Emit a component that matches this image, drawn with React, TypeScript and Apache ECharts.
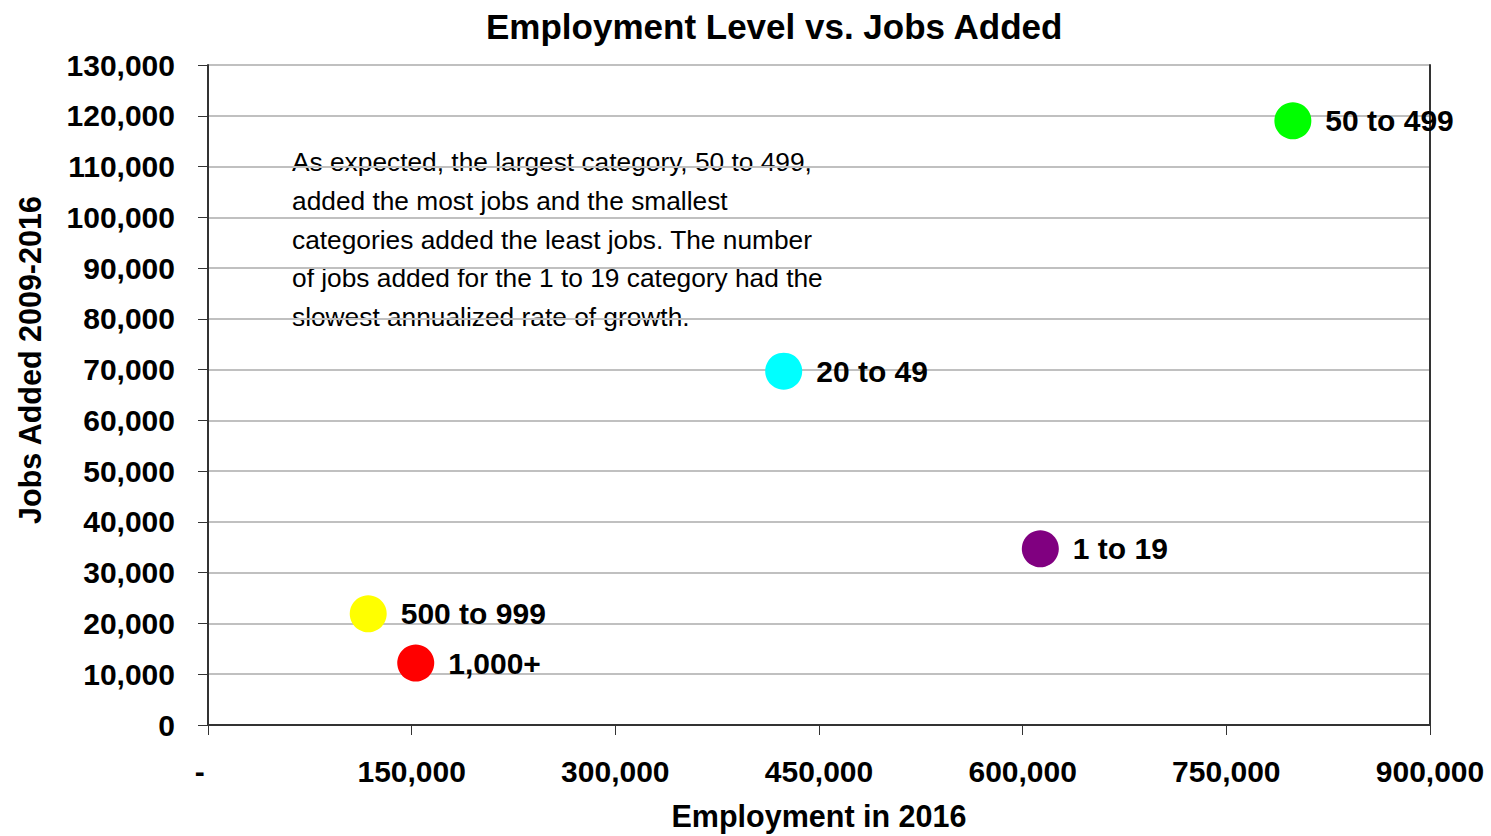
import React, { useEffect, useRef } from "react";
import * as echarts from "echarts";

const categories = ["50 to 499", "20 to 49", "1 to 19", "500 to 999", "1,000+"];
const employment = [799000, 424000, 613000, 118000, 153000];
const jobsAdded = [119000, 69700, 34700, 21900, 12200];
const colors = ["#00ff00", "#00ffff", "#800080", "#ffff00", "#ff0000"];
const noteLines = [
  "As expected, the largest category, 50 to 499,",
  "added the most jobs and the smallest",
  "categories added the least jobs. The number",
  "of jobs added for the 1 to 19 category had the",
  "slowest annualized rate of growth.",
];

const FONT = "'Liberation Sans Narrow', 'Arial Narrow', 'Liberation Sans', Arial, sans-serif";

const fmt = (v: number) => (v === 0 ? "-\u00a0\u00a0" : v.toLocaleString("en-US"));

export default function App() {
  const ref = useRef<HTMLDivElement>(null);
  useEffect(() => {
    if (!ref.current) return;
    const chart = echarts.init(ref.current, undefined, { renderer: "svg" });
    chart.setOption({
      animation: false,
      backgroundColor: "#ffffff",
      textStyle: { fontFamily: FONT },
      title: {
        text: "Employment Level vs. Jobs Added",
        left: 481,
        top: 4,
        textStyle: { fontFamily: FONT, fontWeight: "bold", fontSize: 35, color: "#000" },
      },
      grid: {
        left: 208,
        right: 61,
        top: 65,
        bottom: 111,
        containLabel: false,
        outerBoundsMode: "none",
      },
      xAxis: {
        type: "value",
        min: 0,
        max: 900000,
        interval: 150000,
        name: "Employment in 2016",
        nameLocation: "middle",
        nameGap: 75,
        nameTextStyle: { fontFamily: FONT, fontWeight: "bold", fontSize: 30.5, color: "#000" },
        axisLine: { show: true, onZero: false, lineStyle: { color: "#333", width: 2 } },
        axisTick: { show: true, length: 10, lineStyle: { color: "#333", width: 1 } },
        axisLabel: {
          formatter: fmt,
          margin: 31,
          fontFamily: FONT,
          fontWeight: "bold",
          fontSize: 30,
          color: "#000",
        },
        splitLine: { show: false },
      },
      yAxis: [
        {
          type: "value",
          min: 0,
          max: 130000,
          interval: 10000,
          name: "Jobs Added 2009-2016",
          nameLocation: "middle",
          nameGap: 163,
          nameTextStyle: {
            fontFamily: FONT,
            fontWeight: "bold",
            fontSize: 30.5,
            color: "#000",
            padding: [0, 0, 0, 70],
          },
          axisLine: { show: true, lineStyle: { color: "#333", width: 2 } },
          axisTick: { show: true, length: 10, lineStyle: { color: "#333", width: 1 } },
          axisLabel: {
            formatter: (v: number) => v.toLocaleString("en-US"),
            margin: 33,
            fontFamily: FONT,
            fontWeight: "bold",
            fontSize: 30,
            color: "#000",
          },
          splitLine: { show: true, lineStyle: { color: "#c0c0c0", width: 2 } },
        },
        {
          type: "value",
          min: 0,
          max: 130000,
          interval: 10000,
          position: "right",
          axisLine: { show: true, lineStyle: { color: "#333", width: 2 } },
          axisTick: { show: false },
          axisLabel: { show: false },
          splitLine: { show: false },
        },
      ],
      series: [
        {
          type: "scatter",
          yAxisIndex: 0,
          symbolSize: 37,
          itemStyle: { opacity: 1 },
          data: categories.map((c, i) => ({
            name: c,
            value: [employment[i], jobsAdded[i]],
            itemStyle: { color: colors[i], opacity: 1 },
          })),
          label: {
            show: true,
            position: "right",
            distance: 14,
            formatter: (p: any) => p.name,
            fontFamily: FONT,
            fontWeight: "bold",
            fontSize: 30,
            color: "#000",
          },
        },
      ],
      graphic: [
        {
          type: "text",
          left: 292,
          top: 143,
          style: {
            text: noteLines.join("\n"),
            fontFamily: FONT,
            fontSize: 26.3,
            lineHeight: 38.7,
            fill: "#000",
          },
        },
      ],
    });
    return () => chart.dispose();
  }, []);
  return <div ref={ref} style={{ width: 1491, height: 836, position: "absolute", left: 0, top: 0 }} />;
}
